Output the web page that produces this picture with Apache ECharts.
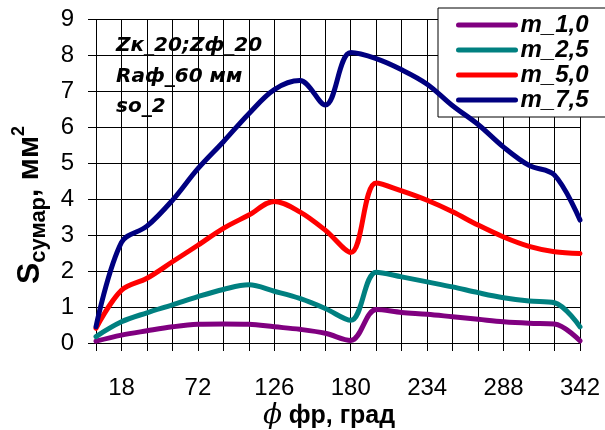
<!DOCTYPE html>
<html>
<head>
<meta charset="utf-8">
<script src="https://cdn.jsdelivr.net/npm/echarts@6/dist/echarts.min.js"></script>
<style>
html,body{margin:0;padding:0;background:#fff;}
#chart{width:605px;height:430px;}
</style>
</head>
<body>
<div id="chart"></div>
<script>
// Categories: angle phi, degrees
var categories = ['0','18','36','54','72','90','108','126','144','162','180','198','216','234','252','270','288','306','324','342'];
var labelShown = ['18','72','126','180','234','288','342'];
var yTicks = [0,1,2,3,4,5,6,7,8,9];
var seriesNames = ['m_1,0','m_2,5','m_5,0','m_7,5'];
var m10 = [0.05,0.22,0.34,0.45,0.52,0.53,0.52,0.45,0.38,0.27,0.07,0.93,0.85,0.80,0.73,0.66,0.59,0.55,0.53,0.06];
var m25 = [0.18,0.59,0.84,1.06,1.29,1.49,1.62,1.44,1.24,0.96,0.63,1.97,1.84,1.70,1.56,1.40,1.26,1.17,1.12,0.45];
var m50 = [0.41,1.47,1.80,2.26,2.72,3.19,3.56,3.94,3.65,3.14,2.52,4.45,4.23,3.97,3.65,3.28,2.95,2.69,2.54,2.49];
var m75 = [0.45,2.80,3.25,3.97,4.85,5.60,6.38,7.05,7.30,6.62,8.08,7.91,7.60,7.20,6.60,6.08,5.45,4.94,4.67,3.42];
var colors = ['#800080','#008080','#FF0000','#000080'];
var annotation = ['Zк_20;Zф_20','Raф_60 мм','so_2'];

var chart = echarts.init(document.getElementById('chart'), null, {renderer:'canvas'});
var dataSets = [m10, m25, m50, m75];
var series = dataSets.map(function(d, i){
  return {
    name: seriesNames[i], type:'line', data: d, smooth: 0.35,
    showSymbol:false, symbol:'none',
    lineStyle:{width:5, color:colors[i], cap:'round', join:'round'},
    itemStyle:{color:colors[i]},
    z: 3 + i
  };
});

chart.setOption({
  animation:false,
  backgroundColor:'#fff',
  grid:{left:96, right:25, top:19.5, bottom:87, containLabel:false},
  xAxis:{
    type:'category', data:categories, boundaryGap:false,
    axisLine:{show:true, lineStyle:{color:'#000', width:1}},
    axisTick:{show:true, inside:false, length:8, interval:0, lineStyle:{color:'#000'}},
    axisLabel:{
      interval:function(idx, val){ return labelShown.indexOf(val) >= 0; },
      margin:33, fontSize:24, fontFamily:'Liberation Sans, Arial', color:'#000'
    },
    splitLine:{show:true, interval:0, lineStyle:{color:'#000', width:1}}
  },
  yAxis:{
    type:'value', min:yTicks[0], max:yTicks[yTicks.length-1], interval:1,
    axisLine:{show:true, lineStyle:{color:'#000', width:1}},
    axisTick:{show:true, inside:false, length:8, lineStyle:{color:'#000'}},
    axisLabel:{margin:22, fontSize:24, fontFamily:'Liberation Sans, Arial', color:'#000'},
    splitLine:{show:true, lineStyle:{color:'#000', width:1}}
  },
  legend:{
    orient:'vertical', left:438, top:8,
    data: seriesNames,
    itemWidth:57, itemHeight:14, itemGap:1,
    padding:[5,24,5,18],
    backgroundColor:'#fff', borderColor:'#000', borderWidth:1, borderRadius:0,
    lineStyle:{width:5, cap:'round'},
    itemStyle:{color:'rgba(0,0,0,0)', borderColor:'rgba(0,0,0,0)', borderWidth:0, opacity:0},
    textStyle:{fontSize:24, fontWeight:'bold', fontStyle:'italic', fontFamily:'Liberation Sans, Arial', color:'#000', lineHeight:20}
  },
  graphic:[
    {
      type:'text', left:116, top:31, z:10,
      style:{
        text: annotation.join('\n'),
        font:'italic bold 20px "DejaVu Sans"',
        lineHeight:30.5, fill:'#000'
      }
    },
    {
      type:'text', x:30, y:205, rotation:Math.PI/2, z:10,
      style:{
        text:'{s|S}{sub|сумар}{n|, мм}{sup|2}',
        align:'center', verticalAlign:'middle', fill:'#000',
        rich:{
          s:{fontSize:32, fontWeight:'bold', fontFamily:'Liberation Sans', lineHeight:40, verticalAlign:'middle'},
          sub:{fontSize:22, fontWeight:'bold', fontFamily:'Liberation Sans', lineHeight:22, verticalAlign:'bottom'},
          n:{fontSize:30, fontWeight:'bold', fontFamily:'Liberation Sans', lineHeight:40, verticalAlign:'middle'},
          sup:{fontSize:18, fontWeight:'bold', fontFamily:'Liberation Sans', lineHeight:18, verticalAlign:'top'}
        }
      }
    },
    {
      type:'text', x:329, y:416, z:10,
      style:{
        text:'{phi|ϕ}  {b|фр, град}',
        align:'center', verticalAlign:'middle', fill:'#000',
        rich:{
          phi:{fontSize:28, fontStyle:'italic', fontFamily:'DejaVu Serif', lineHeight:30},
          b:{fontSize:25, fontWeight:'bold', fontFamily:'Liberation Sans', lineHeight:30}
        }
      }
    }
  ],
  series: series
});
</script>
</body>
</html>
